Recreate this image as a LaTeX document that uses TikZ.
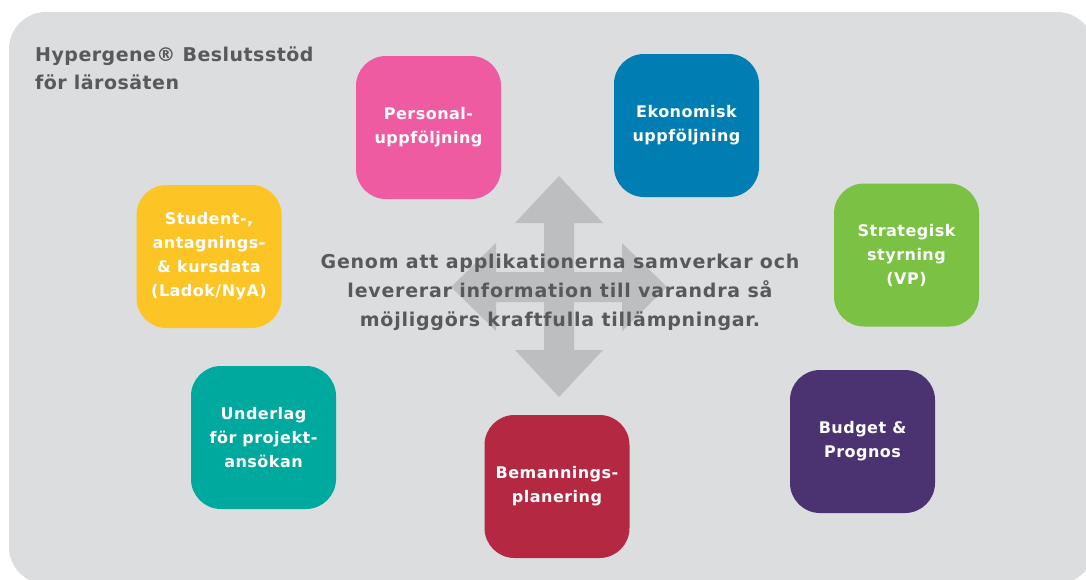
\documentclass[tikz,border=0pt]{standalone}
\usepackage{fontspec}
\setmainfont{DejaVu Sans}
\newfontfamily\boxfont[LetterSpace=3]{DejaVu Sans}
\newfontfamily\midfont[LetterSpace=4]{DejaVu Sans}
\newfontfamily\titfont[LetterSpace=2.5]{DejaVu Sans}
\definecolor{bggray}{HTML}{DCDDDF}
\definecolor{arrgray}{HTML}{BDBEC0}
\definecolor{txtgray}{HTML}{58595B}
\definecolor{cpink}{HTML}{EF5BA1}
\definecolor{cblue}{HTML}{007DB3}
\definecolor{cyellow}{HTML}{FDC425}
\definecolor{cgreen}{HTML}{7BC143}
\definecolor{cteal}{HTML}{00A99D}
\definecolor{ccrimson}{HTML}{B52842}
\definecolor{cpurple}{HTML}{4B3371}
\begin{document}
\begin{tikzpicture}[x=1pt,y=-1pt,
  appbox/.style={rounded corners=30pt, minimum width=145pt, minimum height=143pt,
    inner sep=0pt, text=white, align=center,
    font=\boxfont\bfseries\fontsize{16}{24}\selectfont},
  maintext/.style={text=txtgray, inner sep=0pt}]
\useasboundingbox (0,0) rectangle (1086,579);
\fill[bggray, rounded corners=37pt] (9,12) rectangle (1094,584);
% four-way arrow
\fill[arrgray] (559,176) -- (603,223) -- (574,223) -- (574,272) -- (622,272) -- (622,243)
  -- (667,287) -- (622,331) -- (622,302) -- (574,302) -- (574,350) -- (603,350)
  -- (559,397) -- (515,350) -- (544,350) -- (544,302) -- (496,302) -- (496,331)
  -- (451,287) -- (496,243) -- (496,272) -- (544,272) -- (544,223) -- (515,223) -- cycle;
% title
\node[maintext, anchor=north west, align=left, font=\titfont\bfseries\fontsize{19}{28}\selectfont] (title) at (35,47)
  {Hypergene® Beslutsstöd\\för lärosäten};
% central text
\node[maintext, align=center, font=\midfont\bfseries\fontsize{19}{29}\selectfont] (center) at (560,292)
  {Genom att applikationerna samverkar och\\levererar information till varandra så\\möjliggörs kraftfulla tillämpningar.};
% boxes
\node[appbox, fill=cpink] (personal) at (428.5,127.5) {Personal-\\uppföljning};
\node[appbox, fill=cblue] (ekonomi) at (686.5,125.5) {Ekonomisk\\uppföljning};
\node[appbox, fill=cyellow] (student) at (209,256.5) {Student-,\\antagnings-\\\& kursdata\\(Ladok/NyA)};
\node[appbox, fill=cgreen] (strategi) at (906.5,255) {Strategisk\\styrning\\(VP)};
\node[appbox, fill=cteal] (underlag) at (263.5,437.5) {Underlag\\för projekt-\\ansökan};
\node[appbox, fill=ccrimson] (bemanning) at (557,486.5) {Bemannings-\\planering};
\node[appbox, fill=cpurple] (budget) at (862.5,441.5) {Budget \&\\Prognos};
\end{tikzpicture}
\end{document}
